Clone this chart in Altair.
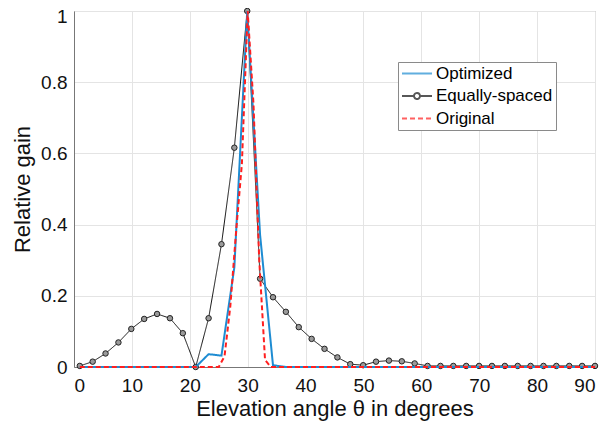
import altair as alt
import pandas as pd

# Angle grid shared by the "Equally-spaced" and "Optimized" curves (41 samples, 1..90 deg)
grid_angles = [1, 3.225, 5.45, 7.675, 9.9, 12.125, 14.35, 16.575, 18.8, 21.025,
               23.25, 25.475, 27.7, 29.925, 32.15, 34.375, 36.6, 38.825, 41.05, 43.275,
               45.5, 47.725, 49.95, 52.175, 54.4, 56.625, 58.85, 61.075, 63.3, 65.525,
               67.75, 69.975, 72.2, 74.425, 76.65, 78.875, 81.1, 83.325, 85.55, 87.775, 90]

equally_spaced = [0.003, 0.015, 0.038, 0.069, 0.107, 0.135, 0.149, 0.137, 0.095, 0.0,
                  0.137, 0.345, 0.616, 1.0, 0.248, 0.196, 0.155, 0.112, 0.079, 0.051,
                  0.027, 0.008, 0.005, 0.015, 0.018, 0.016, 0.010, 0.003, 0.003, 0.003,
                  0.003, 0.003, 0.003, 0.003, 0.003, 0.003, 0.003, 0.003, 0.003, 0.003, 0.003]

optimized = [0, 0, 0, 0, 0, 0, 0, 0, 0, 0,
             0.036, 0.032, 0.28, 1.0, 0.37, 0.005, 0, 0, 0, 0,
             0, 0, 0, 0, 0, 0, 0, 0, 0, 0,
             0, 0, 0, 0, 0, 0, 0, 0, 0, 0, 0]

# "Original" curve, 1-degree samples
orig_angles = list(range(1, 91))
orig_peak_angles = [25, 26, 27, 28, 29, 30, 31, 32, 33, 34]
orig_peak_values = [0.0, 0.03, 0.17, 0.38, 0.57, 1.0, 0.74, 0.30, 0.02, 0.0]

series_names = ["Optimized", "Equally-spaced", "Original"]
series_colors = ["#1e8cd2", "#111111", "#ff1f1f"]
series_dash = [[1, 0], [1, 0], [5, 3]]
# legend glyphs: a line segment, and a line segment with a small circle
seg = "M-1,0H3"
seg_circle = "M-1,0H0.6M1.4,0H3M1.4,0A0.4,0.4 0 1,1 0.6,0A0.4,0.4 0 1,1 1.4,0"
series_shapes = [seg, seg_circle, seg]

x_ticks = [0, 10, 20, 30, 40, 50, 60, 70, 80, 90]
y_ticks = [0, 0.2, 0.4, 0.6, 0.8, 1]

orig_values = [orig_peak_values[orig_peak_angles.index(a)] if a in orig_peak_angles else 0.0
               for a in orig_angles]

df = pd.concat([
    pd.DataFrame({"angle": grid_angles, "gain": optimized, "series": "Optimized"}),
    pd.DataFrame({"angle": grid_angles, "gain": equally_spaced, "series": "Equally-spaced"}),
    pd.DataFrame({"angle": orig_angles, "gain": orig_values, "series": "Original"}),
], ignore_index=True)

FONT = "Liberation Sans"

x_enc = alt.X("angle:Q",
              scale=alt.Scale(domain=[0, 90], nice=False, zero=False),
              axis=alt.Axis(values=x_ticks, title="Elevation angle θ in degrees",
                            grid=True, ticks=False, labelPadding=9, titlePadding=3))
y_enc = alt.Y("gain:Q",
              scale=alt.Scale(domain=[0, 1], nice=False),
              axis=alt.Axis(values=y_ticks, title="Relative gain", format="~g",
                            grid=True, ticks=False, labelPadding=7, titlePadding=6,
                            labelOffset=alt.condition("datum.value == 1", alt.value(5), alt.value(0))))

legend_cfg = dict(title=None, orient="none", legendX=324, legendY=51,
                  symbolSize=225, symbolStrokeWidth=2, symbolFillColor="transparent",
                  labelFontSize=17, labelFont=FONT, labelOffset=18, rowPadding=4.5,
                  padding=3, strokeColor="#8a8a8a", fillColor="white",
                  labelColor="#000000")

color_enc = alt.Color("series:N",
                      scale=alt.Scale(domain=series_names, range=series_colors),
                      legend=alt.Legend(**legend_cfg))
dash_enc = alt.StrokeDash("series:N",
                          scale=alt.Scale(domain=series_names, range=series_dash),
                          legend=alt.Legend(**legend_cfg))
shape_enc = alt.Shape("series:N",
                      scale=alt.Scale(domain=series_names, range=series_shapes),
                      legend=alt.Legend(**legend_cfg))

base = alt.Chart(df)

eq_line = base.transform_filter(alt.datum.series == "Equally-spaced").mark_line(
    strokeWidth=1, clip=False).encode(x=x_enc, y=y_enc, color=color_enc, strokeDash=dash_enc)
eq_pts = base.transform_filter(alt.datum.series == "Equally-spaced").mark_point(
    shape="circle", size=30, filled=False, stroke="#222222", strokeWidth=1,
    fill="#9a9a9a", fillOpacity=1, opacity=1, clip=False).encode(x=x_enc, y=y_enc)
opt_line = base.transform_filter(alt.datum.series == "Optimized").mark_line(
    strokeWidth=2, clip=False).encode(x=x_enc, y=y_enc, color=color_enc, strokeDash=dash_enc)
orig_line = base.transform_filter(alt.datum.series == "Original").mark_line(
    strokeWidth=2, clip=False).encode(x=x_enc, y=y_enc, color=color_enc, strokeDash=dash_enc)
# legend-only layer (no rows drawn) supplying per-series legend glyphs
legend_layer = base.transform_filter("false").mark_point(filled=False, strokeWidth=2).encode(
    x=x_enc, y=y_enc, color=color_enc, strokeDash=dash_enc, shape=shape_enc)

chart = alt.layer(eq_line, eq_pts, opt_line, orig_line, legend_layer).properties(
    width=521, height=356,
    autosize=alt.AutoSizeParams(type="none"),
    padding={"left": 66, "top": 3, "right": 10, "bottom": 60},
).configure_view(
    stroke="#9a9a9a", strokeWidth=1
).configure_axis(
    labelFont=FONT, titleFont=FONT, labelFontSize=19, titleFontSize=22,
    labelColor="#111111", titleColor="#111111", titleFontWeight="normal",
    gridColor="#e4e4e4", gridWidth=1, domainColor="#777777", domainWidth=1
).configure_legend(
    labelFont=FONT
)

chart.save("out.html", embed_options={"renderer": "svg", "actions": False})
